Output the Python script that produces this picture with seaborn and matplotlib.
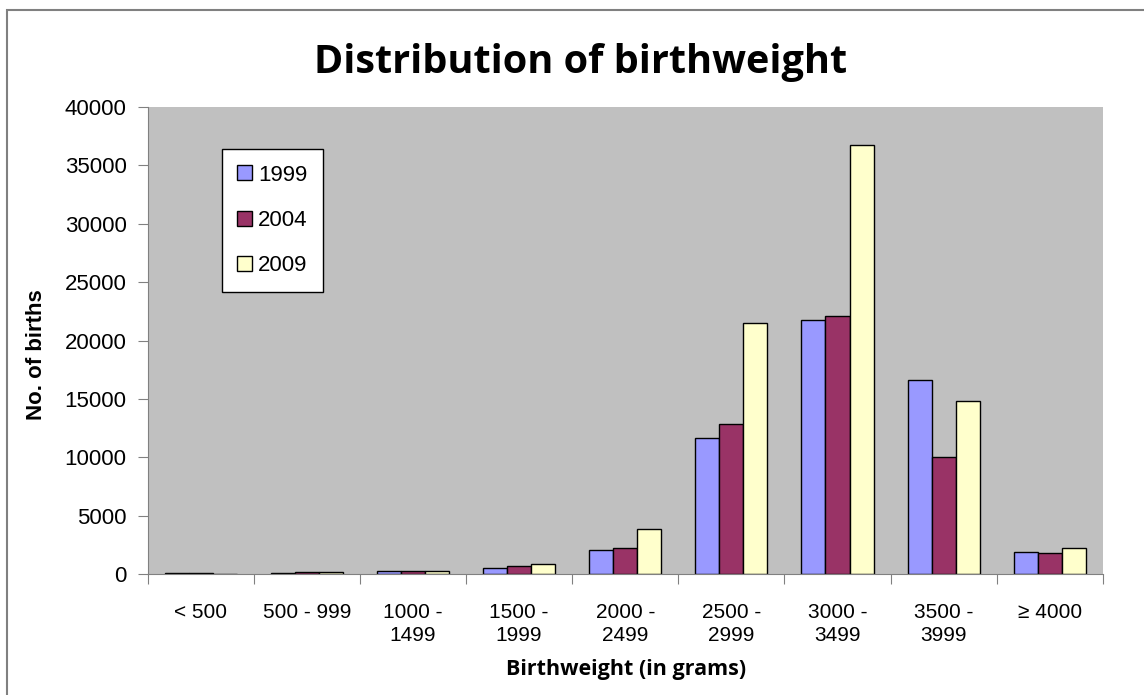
import numpy as np
import pandas as pd
import matplotlib.pyplot as plt
from matplotlib.patches import Rectangle
import seaborn as sns

categories = ['< 500', '500 - 999', '1000 -\n1499', '1500 -\n1999', '2000 -\n2499',
              '2500 -\n2999', '3000 -\n3499', '3500 -\n3999', '\u2265 4000']
births_1999 = [60, 80, 280, 510, 2050, 11620, 21760, 16620, 1910]
births_2004 = [50, 180, 300, 660, 2250, 12820, 22100, 10050, 1820]
births_2009 = [40, 160, 290, 860, 3830, 21470, 36750, 14790, 2250]
years = ['1999', '2004', '2009']
colors = ['#9999FF', '#993366', '#FFFFCC']

df = pd.DataFrame({'weight': categories * 3,
                   'year': np.repeat(years, len(categories)),
                   'births': births_1999 + births_2004 + births_2009})

sns.set_style('white')
plt.rcParams['font.family'] = ['Liberation Sans', 'DejaVu Sans']
plt.rcParams['text.color'] = 'black'
plt.rcParams['axes.labelcolor'] = 'black'
plt.rcParams['xtick.color'] = 'black'
plt.rcParams['ytick.color'] = 'black'

fig = plt.figure(figsize=(11.44, 6.95), dpi=100)
ax = fig.add_axes([0.129, 0.174, 0.835, 0.672])
fig.patches.append(Rectangle((7 / 1144, -0.1), 1.2, 1 - 10 / 695 + 0.1,
                             transform=fig.transFigure, fill=False,
                             edgecolor='#808080', linewidth=1.5))

sns.barplot(df, x='weight', y='births', hue='year', palette=colors,
            width=0.68, edgecolor='black', linewidth=1, saturation=1, ax=ax)
ax.set_facecolor('#C0C0C0')
ax.set_ylim(0, 40000)
ax.set_xlim(-0.5, len(categories) - 0.5)
ax.set_yticks(range(0, 40001, 5000))
ax.tick_params(axis='y', labelsize=16, length=7, pad=8, color='#808080',
               direction='out', left=True, labelcolor='black')
ax.set_xticks(np.arange(-0.5, len(categories), 1))
ax.set_xticklabels([])
ax.set_xticks(range(len(categories)), minor=True)
ax.set_xticklabels(categories, minor=True, fontsize=15, linespacing=1.25)
ax.tick_params(axis='x', which='major', length=7, color='#808080', direction='out', bottom=True)
ax.tick_params(axis='x', which='minor', length=0, pad=21, labelcolor='black')
for s in ['top', 'right']:
    ax.spines[s].set_visible(False)
for s in ['left', 'bottom']:
    ax.spines[s].set_color('#808080')

ax.set_xlabel('')
ax.set_ylabel('')
fig.text(626 / 1144, 1 - 670 / 695, 'Birthweight (in grams)', fontsize=15.5,
         fontweight='bold', family=['Open Sans', 'DejaVu Sans'],
         ha='center', va='center')
fig.text(37 / 1144, 1 - 355 / 695, 'No. of births', fontsize=16, fontweight='bold',
         rotation=90, ha='center', va='center')
fig.text(581 / 1144, 1 - 62 / 695, 'Distribution of birthweight', fontsize=28.5,
         fontweight='bold', family=['Open Sans', 'DejaVu Sans'],
         ha='center', va='center')

leg = ax.legend(loc='upper left', bbox_to_anchor=(74 / 955, 425 / 467), fontsize=16,
                frameon=True, fancybox=False, edgecolor='black', framealpha=1,
                handlelength=0.65, handleheight=0.65, handletextpad=0.3,
                labelspacing=1.1, borderpad=0.7, borderaxespad=0, title=None)
leg.get_frame().set_linewidth(1)

fig.savefig('out.png', dpi=100)
